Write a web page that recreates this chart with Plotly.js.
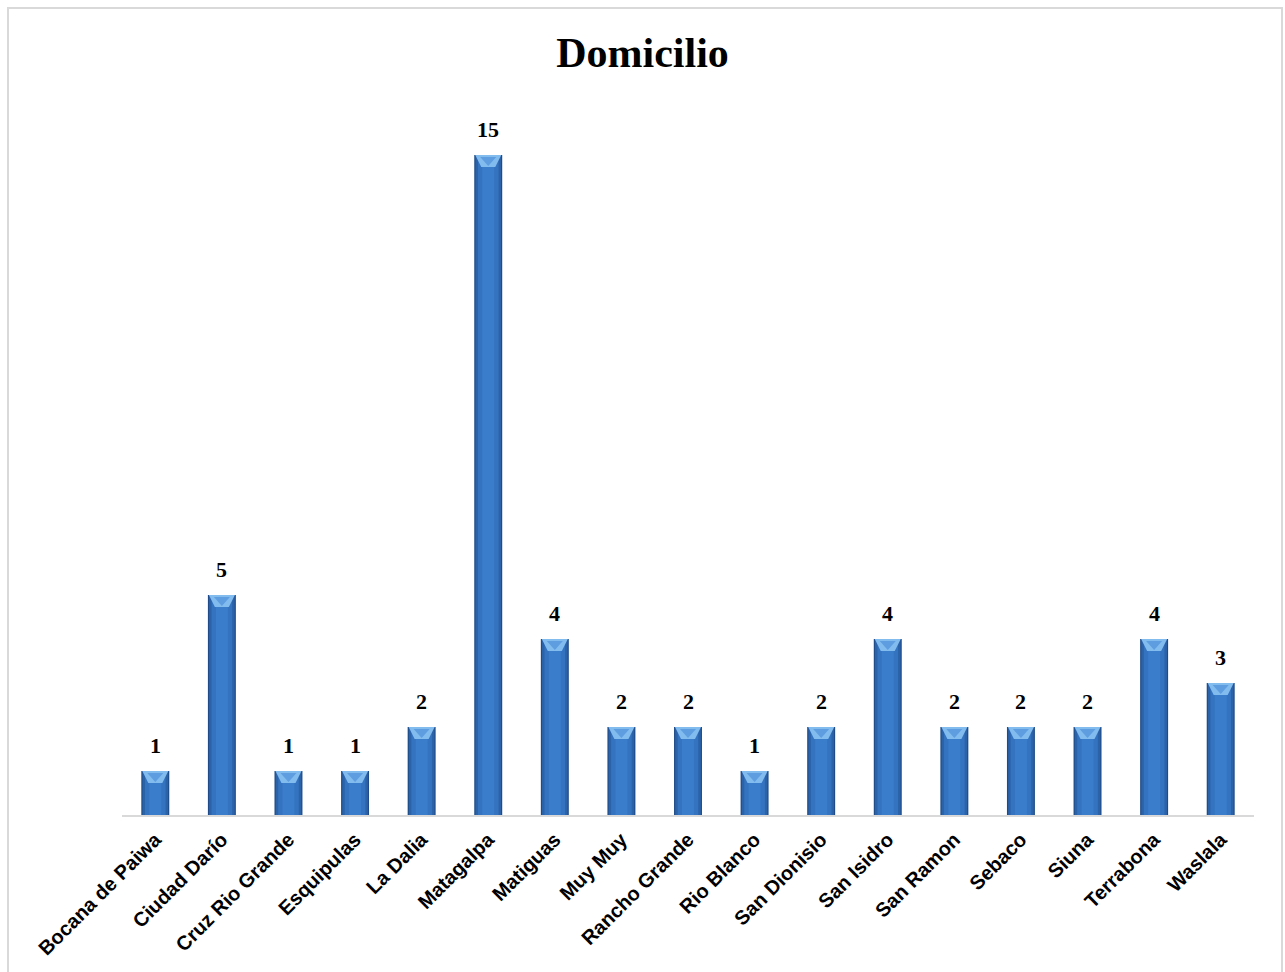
<!DOCTYPE html>
<html>
<head>
<meta charset="utf-8">
<script src="https://cdn.plot.ly/plotly-3.0.1.min.js"></script>
<style>
  html, body { margin: 0; padding: 0; background: #ffffff; }
  #wrap { position: relative; width: 1285px; height: 972px; overflow: hidden; }
  #chart { position: absolute; left: 0; top: 0; width: 1285px; height: 972px; }
  #frame { position: absolute; left: 7px; top: 7px; width: 1272px; height: 990px;
           border: 2px solid #d9d9d9; pointer-events: none; }
</style>
</head>
<body>
<div id="wrap">
  <div id="chart"></div>
  <div id="frame"></div>
</div>
<script>
// Municipalities of residence and number of cases in each
const municipios = [
  "Bocana de Paiwa", "Ciudad Darío", "Cruz Rio Grande", "Esquipulas", "La Dalia",
  "Matagalpa", "Matiguas", "Muy Muy", "Rancho Grande", "Rio Blanco",
  "San Dionisio", "San Isidro", "San Ramon", "Sebaco", "Siuna",
  "Terrabona", "Waslala"
];
const casos = [1, 5, 1, 1, 2, 15, 4, 2, 2, 1, 2, 4, 2, 2, 2, 4, 3];

const serif = "Liberation Serif";
const sans = "Liberation Sans";

// Layered bars give the bevelled column look: dark rim, body, lighter core
const layers = [
  { width: 0.42, color: "#1f4c88" },
  { width: 0.385, color: "#2b62a8" },
  { width: 0.31, color: "#3473bf" },
  { width: 0.18, color: "#3a7dcb" }
];
const traces = layers.map(l => ({
  type: "bar",
  x: municipios,
  y: casos,
  width: l.width,
  marker: { color: l.color, line: { width: 0 } },
  hoverinfo: "skip",
  showlegend: false
}));

// Bevel on top of each column, anchored at the bar's value:
// a light band with a darker downward chevron in the middle
const bevelBand = municipios.map((m, i) => ({
  type: "path",
  xref: "x", yref: "y",
  xsizemode: "pixel", ysizemode: "pixel",
  xanchor: i, yanchor: casos[i],
  path: "M-13,0 L13,0 L7,-12 L-7,-12 Z",
  fillcolor: "#82bbee",
  line: { width: 0 },
  layer: "above"
}));
const bevelChevron = municipios.map((m, i) => ({
  type: "path",
  xref: "x", yref: "y",
  xsizemode: "pixel", ysizemode: "pixel",
  xanchor: i, yanchor: casos[i],
  path: "M-8,-2 L8,-2 L0,-11 Z",
  fillcolor: "#5d9de0",
  line: { width: 0 },
  layer: "above"
}));

// Value labels above the columns
const labels = municipios.map((m, i) => ({
  x: m, y: casos[i],
  xref: "x", yref: "y",
  text: String(casos[i]),
  showarrow: false,
  yanchor: "bottom",
  yshift: 11,
  font: { family: serif, size: 22, color: "#000000", weight: "bold" }
}));

const layout = {
  width: 1285, height: 972,
  paper_bgcolor: "#ffffff", plot_bgcolor: "#ffffff",
  margin: { l: 122, r: 31, t: 111, b: 157 },
  title: {
    text: "Domicilio",
    font: { family: serif, size: 42, color: "#000000", weight: "bold" },
    x: 0.5, xanchor: "center",
    y: 1 - 52 / 972, yanchor: "middle"
  },
  barmode: "overlay",
  xaxis: {
    type: "category",
    tickangle: -45,
    tickfont: { family: sans, size: 20, color: "#000000", weight: "bold" },
    ticklabelstandoff: 3,
    showline: true, linecolor: "#d9d9d9", linewidth: 2,
    ticks: "", showgrid: false, zeroline: false,
    automargin: false
  },
  yaxis: {
    range: [0, 16],
    visible: false, showgrid: false, zeroline: false
  },
  shapes: bevelBand.concat(bevelChevron),
  annotations: labels
};

Plotly.newPlot("chart", traces, layout, { displayModeBar: false, staticPlot: true });
</script>
</body>
</html>
